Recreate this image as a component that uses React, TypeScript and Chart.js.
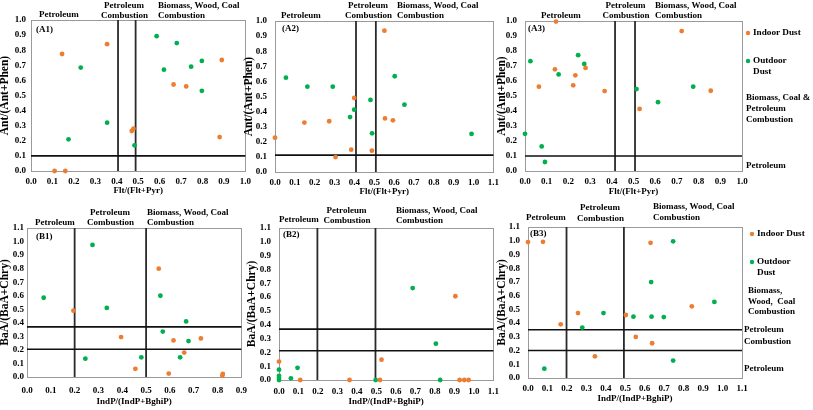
import React, { useEffect, useRef } from "react";
import { Chart, registerables } from "chart.js";

Chart.register(...registerables);

const ORANGE = "#ED7D31";
const GREEN = "#00B050";
const BOX = "#9a9a9a";
const LINE = "#2a2a2a";
const FAMILY = "'Liberation Serif', 'Times New Roman', serif";

// ---------------- data ----------------
const seriesNames = ["Indoor Dust", "Outdoor Dust"];

const a1Indoor = [[0.11, 0], [0.16, 0], [0.145, 0.775], [0.355, 0.84], [0.47, 0.265], [0.478, 0.28], [0.665, 0.573], [0.724, 0.56], [0.89, 0.735], [0.88, 0.225]];
const a1Outdoor = [[0.175, 0.21], [0.232, 0.685], [0.355, 0.32], [0.483, 0.17], [0.586, 0.893], [0.68, 0.847], [0.62, 0.671], [0.747, 0.691], [0.797, 0.729], [0.797, 0.531]];
const a1VLines = [0.406, 0.488];
const a1HLines = [0.1];

const a2Indoor = [[0, 0.227], [0.148, 0.327], [0.273, 0.336], [0.305, 0.099], [0.384, 0.148], [0.399, 0.49], [0.488, 0.141], [0.551, 0.936], [0.554, 0.355], [0.594, 0.342]];
const a2Outdoor = [[0.055, 0.625], [0.163, 0.565], [0.291, 0.565], [0.378, 0.364], [0.399, 0.413], [0.481, 0.477], [0.489, 0.256], [0.603, 0.634], [0.652, 0.446], [0.99, 0.252]];
const a2VLines = [0.408, 0.508];
const a2HLines = [0.112];

const a3Indoor = [[0.143, 0.996], [0.722, 0.933], [0.138, 0.678], [0.279, 0.687], [0.232, 0.638], [0.064, 0.562], [0.222, 0.571], [0.367, 0.533], [0.856, 0.535], [0.528, 0.414]];
const a3Outdoor = [[0.245, 0.772], [0.273, 0.714], [0.025, 0.732], [0.155, 0.644], [0.514, 0.546], [0.775, 0.562], [0.613, 0.459], [0, 0.248], [0.077, 0.164], [0.092, 0.06]];
const a3VLines = [0.415, 0.507];
const a3HLines = [0.1];

const b1Indoor = [[0.195, 0.49], [0.395, 0.295], [0.455, 0.06], [0.553, 0.8], [0.615, 0.27], [0.73, 0.285], [0.66, 0.18], [0.595, 0.025], [0.82, 0.01], [0.822, 0.022]];
const b1Outdoor = [[0.07, 0.585], [0.275, 0.975], [0.335, 0.51], [0.245, 0.135], [0.48, 0.145], [0.56, 0.6], [0.57, 0.335], [0.668, 0.41], [0.678, 0.265], [0.643, 0.145]];
const b1VLines = [0.2, 0.5];
const b1HLines = [0.37, 0.205];

const b2Indoor = [[0, 0.133], [0.109, 0], [0.362, 0], [0.518, 0], [0.526, 0.147], [0.905, 0.606], [0.927, 0], [0.951, 0], [0.973, 0]];
const b2Outdoor = [[0, 0.075], [0, 0.03], [0, 0.015], [0, 0], [0.061, 0.012], [0.095, 0.088], [0.496, 0], [0.686, 0.665], [0.805, 0.263], [0.827, 0]];
const b2VLines = [0.197, 0.495];
const b2HLines = [0.368, 0.212];

const b3Indoor = [[0, 0.99], [0.077, 0.992], [0.63, 0.985], [0.168, 0.391], [0.257, 0.473], [0.503, 0.459], [0.842, 0.522], [0.554, 0.299], [0.638, 0.253], [0.344, 0.158]];
const b3Outdoor = [[0.746, 0.996], [0.633, 0.699], [0.958, 0.554], [0.388, 0.473], [0.542, 0.447], [0.635, 0.447], [0.698, 0.444], [0.279, 0.367], [0.746, 0.127], [0.084, 0.068]];
const b3VLines = [0.198, 0.493];
const b3HLines = [0.352, 0.2];

const fltTitle = "Flt/(Flt+Pyr)";
const antTitle = "Ant/(Ant+Phen)";
const indTitle = "IndP/(IndP+BghiP)";
const baaTitle = "BaA/(BaA+Chry)";

// ---------------- layout ----------------
type Lbl = { t: string; x: number; y: number; a: CanvasTextAlign };
type Panel = {
  key: string;
  plot: { l: number; r: number; t: number; b: number };
  cl: number; ct: number; cr: number; cb: number;
  xMax: number; yMax: number;
  xTitle: string; yTitle: string;
  xPad: number; yPad: number;
  indoor: number[][]; outdoor: number[][];
  v: number[]; h: number[];
  labels: Lbl[];
  legend?: { x: number; y1: number; y2: number };
};

const topLabels = (p1: number, pc: number, b: number, y1: number, y2: number, yp: number, extra = 0): Lbl[] => [
  { t: "Petroleum", x: p1, y: yp, a: "left" },
  { t: "Petroleum", x: pc, y: y1, a: "center" },
  { t: "Combustion", x: pc + 0.5, y: y2, a: "center" },
  { t: "Biomass, Wood, Coal", x: b, y: y1 + extra, a: "left" },
  { t: "Combustion", x: b, y: y2 + extra, a: "left" },
];

const panels: Panel[] = [
  {
    key: "A1", plot: { l: 31, r: 246, t: 20, b: 171 }, cl: -2, ct: 0, cr: 256, cb: 196,
    xMax: 1.0, yMax: 1.0, xTitle: fltTitle, yTitle: antTitle, xPad: 5, yPad: 5,
    indoor: a1Indoor, outdoor: a1Outdoor, v: a1VLines, h: a1HLines,
    labels: [...topLabels(39, 124, 158, 6, 16, 15), { t: "(A1)", x: 36, y: 30, a: "left" }],
  },
  {
    key: "A2", plot: { l: 275, r: 494, t: 21, b: 172 }, cl: 242, ct: 0, cr: 504, cb: 197,
    xMax: 1.1, yMax: 1.0, xTitle: fltTitle, yTitle: antTitle, xPad: 5, yPad: 8,
    indoor: a2Indoor, outdoor: a2Outdoor, v: a2VLines, h: a2HLines,
    labels: [...topLabels(281, 368, 397, 6, 16, 16), { t: "(A2)", x: 282, y: 29, a: "left" }],
  },
  {
    key: "A3", plot: { l: 525, r: 742, t: 21, b: 171 }, cl: 495, ct: 0, cr: 813, cb: 197,
    xMax: 1.0, yMax: 1.0, xTitle: fltTitle, yTitle: antTitle, xPad: 5, yPad: 8,
    indoor: a3Indoor, outdoor: a3Outdoor, v: a3VLines, h: a3HLines,
    labels: [
      ...topLabels(541, 625.5, 655, 6, 16, 16), { t: "(A3)", x: 528, y: 29, a: "left" },
      { t: "Biomass, Coal &", x: 746, y: 98, a: "left" },
      { t: "Petroleum", x: 746, y: 109, a: "left" },
      { t: "Combustion", x: 746, y: 120, a: "left" },
      { t: "Petroleum", x: 746, y: 166, a: "left" },
    ],
    legend: { x: 748, y1: 33, y2: 61 },
  },
  {
    key: "B1", plot: { l: 27, r: 245, t: 228, b: 377 }, cl: -2, ct: 200, cr: 255, cb: 407,
    xMax: 0.9, yMax: 1.1, xTitle: indTitle, yTitle: baaTitle, xPad: 8, yPad: 3,
    indoor: b1Indoor, outdoor: b1Outdoor, v: b1VLines, h: b1HLines,
    labels: [...topLabels(35, 110, 147, 213, 223, 223), { t: "(B1)", x: 36, y: 237, a: "left" }],
  },
  {
    key: "B2", plot: { l: 279, r: 495, t: 228, b: 380 }, cl: 245, ct: 200, cr: 505, cb: 407,
    xMax: 1.1, yMax: 1.1, xTitle: indTitle, yTitle: baaTitle, xPad: 6, yPad: 8,
    indoor: b2Indoor, outdoor: b2Outdoor, v: b2VLines, h: b2HLines,
    labels: [...topLabels(279, 346.5, 396, 211, 221, 220), { t: "(B2)", x: 283, y: 235, a: "left" }],
  },
  {
    key: "B3", plot: { l: 528, r: 742, t: 227, b: 378 }, cl: 495, ct: 200, cr: 813, cb: 404,
    xMax: 1.1, yMax: 1.1, xTitle: indTitle, yTitle: baaTitle, xPad: 5, yPad: 8,
    indoor: b3Indoor, outdoor: b3Outdoor, v: b3VLines, h: b3HLines,
    labels: [
      ...topLabels(526, 600, 653, 208, 219, 218, -1), { t: "(B3)", x: 530, y: 234, a: "left" },
      { t: "Biomass,", x: 748, y: 291, a: "left" },
      { t: "Wood,  Coal", x: 748, y: 302, a: "left" },
      { t: "Combustion", x: 748, y: 312, a: "left" },
      { t: "Petroleum", x: 744, y: 330, a: "left" },
      { t: "Combustion", x: 744, y: 342, a: "left" },
      { t: "Petroleum", x: 744, y: 369, a: "left" },
    ],
    legend: { x: 752, y1: 234, y2: 262 },
  },
];

const tickFont = { family: FAMILY, size: 9, weight: "bold" as const };
const xTitleFont = { family: FAMILY, size: 9, weight: "bold" as const };
const yTitleFont = { family: FAMILY, size: 11.5, weight: "bold" as const };

function makeConfig(p: Panel): any {
  const yw = p.plot.l - p.cl;
  const xh = p.cb - p.plot.b;
  const deco = {
    id: "deco" + p.key,
    beforeDatasetsDraw(chart: any) {
      const { ctx, chartArea: ca, scales } = chart;
      ctx.save();
      ctx.strokeStyle = BOX;
      ctx.lineWidth = 1;
      ctx.strokeRect(Math.round(ca.left) + 0.5, Math.round(ca.top) + 0.5, Math.round(ca.right - ca.left), Math.round(ca.bottom - ca.top));
      ctx.strokeStyle = LINE;
      ctx.lineWidth = 1.8;
      p.v.forEach((v) => {
        const x = scales.x.getPixelForValue(v);
        ctx.beginPath();
        ctx.moveTo(x, ca.top);
        ctx.lineTo(x, ca.bottom);
        ctx.stroke();
      });
      ctx.lineWidth = 1.6;
      ctx.strokeStyle = "#111";
      p.h.forEach((v) => {
        const y = scales.y.getPixelForValue(v);
        ctx.beginPath();
        ctx.moveTo(ca.left, y);
        ctx.lineTo(ca.right, y);
        ctx.stroke();
      });
      ctx.restore();
    },
    afterDraw(chart: any) {
      const { ctx } = chart;
      ctx.save();
      ctx.fillStyle = "#000";
      ctx.textBaseline = "middle";
      ctx.font = `bold 9px ${FAMILY}`;
      p.labels.forEach((l) => {
        ctx.textAlign = l.a;
        ctx.fillText(l.t, l.x - p.cl, l.y - p.ct);
      });
      if (p.legend) {
        const lg = p.legend;
        const ds = chart.data.datasets;
        ctx.font = `bold 9.2px ${FAMILY}`;
        ctx.textAlign = "left";
        [lg.y1, lg.y2].forEach((yy, i) => {
          ctx.fillStyle = ds[i].backgroundColor;
          ctx.beginPath();
          ctx.arc(lg.x - p.cl, yy - p.ct, 2.2, 0, Math.PI * 2);
          ctx.fill();
          ctx.fillStyle = "#000";
          const words = i === 0 ? [ds[i].label] : ds[i].label.split(" ");
          words.forEach((w: string, k: number) => ctx.fillText(w, lg.x + 5 - p.cl, yy - p.ct + k * 10.5));
        });
      }
      ctx.restore();
    },
  };
  const mk = (arr: number[][]) => arr.map(([x, y]) => ({ x, y }));
  return {
    type: "scatter",
    data: {
      datasets: [
        { label: seriesNames[0], data: mk(p.indoor), backgroundColor: ORANGE, borderColor: ORANGE, pointRadius: 2.4, pointBorderWidth: 0, clip: false },
        { label: seriesNames[1], data: mk(p.outdoor), backgroundColor: GREEN, borderColor: GREEN, pointRadius: 2.4, pointBorderWidth: 0, clip: false },
      ],
    },
    options: {
      responsive: false,
      animation: false,
      devicePixelRatio: 1,
      events: [],
      layout: { padding: { left: 0, top: p.plot.t - p.ct, right: p.cr - p.plot.r, bottom: 0 } },
      plugins: { legend: { display: false }, tooltip: { enabled: false } },
      scales: {
        x: {
          type: "linear", min: 0, max: p.xMax,
          grid: { display: false, drawTicks: false }, border: { display: false },
          ticks: { stepSize: 0.1, autoSkip: false, maxRotation: 0, padding: p.xPad, color: "#000", font: tickFont, callback: (v: any) => Number(v).toFixed(1) },
          title: { display: true, text: p.xTitle, color: "#000", font: xTitleFont, padding: 0 },
          afterFit: (s: any) => { s.height = xh; },
        },
        y: {
          type: "linear", min: 0, max: p.yMax,
          grid: { display: false, drawTicks: false }, border: { display: false },
          ticks: { stepSize: 0.1, autoSkip: false, padding: p.yPad, color: "#000", font: tickFont, callback: (v: any) => Number(v).toFixed(1) },
          title: { display: true, text: p.yTitle, color: "#000", font: yTitleFont, padding: 0 },
          afterFit: (s: any) => { s.width = yw; },
        },
      },
    },
    plugins: [deco],
  };
}

function PanelChart({ p }: { p: Panel }) {
  const ref = useRef<HTMLCanvasElement>(null);
  const w = p.cr - p.cl;
  const h = p.cb - p.ct;
  useEffect(() => {
    const chart = new Chart(ref.current as HTMLCanvasElement, makeConfig(p));
    return () => chart.destroy();
  }, [p]);
  return (
    <canvas
      ref={ref}
      width={w}
      height={h}
      style={{ position: "absolute", left: p.cl, top: p.ct, width: w, height: h }}
    />
  );
}

export default function App() {
  return (
    <div style={{ position: "fixed", left: 0, top: 0, width: 813, height: 410, background: "#fff", overflow: "hidden" }}>
      {panels.map((p) => (
        <PanelChart key={p.key} p={p} />
      ))}
    </div>
  );
}
